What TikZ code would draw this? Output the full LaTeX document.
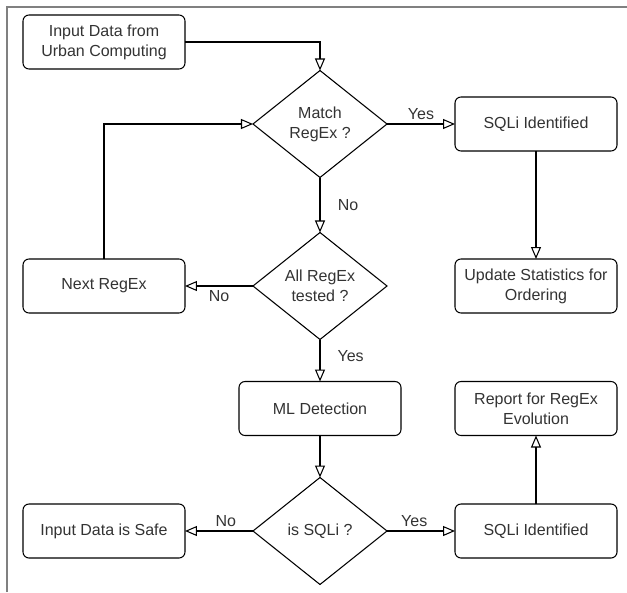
\documentclass[tikz,border=0pt]{standalone}
\usepackage{fontspec}
\setmainfont{Liberation Sans}
\usetikzlibrary{arrows.meta, positioning, shapes.geometric}
\definecolor{flowtext}{HTML}{333333}
\definecolor{framegray}{HTML}{808080}

\begin{document}
\begin{tikzpicture}[
  font=\fontsize{12}{15}\selectfont,
  box/.style={rectangle, rounded corners=4.5pt, draw=black, line width=0.8pt,
    fill=white, text=flowtext, align=center, minimum width=121.5pt,
    minimum height=40.5pt, inner sep=2pt, outer sep=0pt},
  decision/.style={diamond, draw=black, line width=0.8pt, fill=white,
    text=flowtext, align=center, minimum width=100.5pt, minimum height=80.25pt,
    inner sep=0pt, outer sep=0pt},
  lbl/.style={text=flowtext, inner sep=3pt},
  arr/.style={-{Triangle[open, length=9pt, width=7.5pt]}, line width=0.8pt}]
  \useasboundingbox (-240pt,93pt) rectangle (230.25pt,-351pt);
  \draw[framegray, line width=1.5pt] (-235pt,-351pt) |- (230.25pt,88pt);
  \node[decision] (match) at (0,0) {Match\\RegEx ?};
  \node[box, right=51pt of match] (sqli1) {SQLi Identified};
  \node[decision, below=41.25pt of match] (alltest) {All RegEx\\tested ?};
  \node[box, left=51pt of alltest] (next) {Next RegEx};
  \node[box, right=51pt of alltest] (update) {Update Statistics for\\Ordering};
  \node[box, above=142.5pt of next] (input) {Input Data from\\Urban Computing};
  \node[box, below=31.5pt of alltest] (ml) {ML Detection};
  \node[box, right=40.5pt of ml] (report) {Report for RegEx\\Evolution};
  \node[decision, below=31.5pt of ml] (issqli) {is SQLi ?};
  \node[box, left=51pt of issqli] (safe) {Input Data is Safe};
  \node[box, right=51pt of issqli] (sqli2) {SQLi Identified};
  \draw[arr] (input) -| (match);
  \draw[arr] (match) -- node[lbl, above] {Yes} (sqli1);
  \draw[arr] (match) -- node[lbl, right, xshift=10pt] {No} (alltest);
  \draw[arr] (sqli1) -- (update);
  \draw[arr] (alltest) -- node[lbl, below] {No} (next);
  \draw[arr] (next) |- (match);
  \draw[arr] (alltest) -- node[lbl, right, pos=0.4, xshift=9.75pt] {Yes} (ml);
  \draw[arr] (ml) -- (issqli);
  \draw[arr] (issqli) -- node[lbl, above, pos=0.4] {No} (safe);
  \draw[arr] (issqli) -- node[lbl, above, pos=0.4] {Yes} (sqli2);
  \draw[arr] (sqli2) -- (report);
\end{tikzpicture}
\end{document}
